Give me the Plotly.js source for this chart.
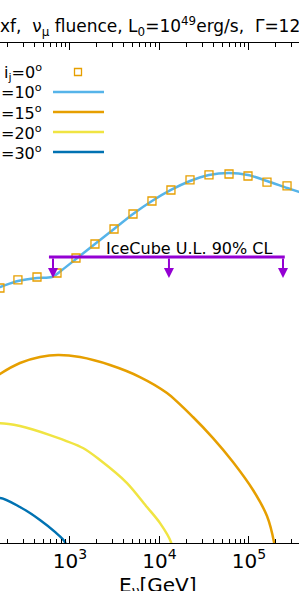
<!DOCTYPE html>
<html>
<head>
<meta charset="utf-8">
<script src="https://cdn.plot.ly/plotly-3.0.1.min.js"></script>
<style>
  html, body { margin: 0; padding: 0; overflow: hidden; background: #fff; }
  #chart { position: absolute; left: 0; top: 0; width: 316px; height: 591px; }
</style>
</head>
<body>
<div id="chart"></div>
<script>
// ---- data (energies in GeV, fluence E^2 dN/dE in arbitrary units) ----
const energy0 = [165, 262, 428, 716, 1167, 1901, 3105, 5058, 8241, 13430, 21930, 35730, 59840, 97500, 158900, 266100];
const fluence0 = [3.55e-4, 4.27e-4, 4.57e-4, 5.01e-4, 7.08e-4, 9.77e-4, 1.38e-3, 1.95e-3, 2.63e-3, 3.39e-3, 4.27e-3, 4.79e-3, 4.90e-3, 4.68e-3, 4.07e-3, 3.72e-3];

const energy10 = [120, 165, 262, 428, 630, 815, 1167, 1901, 3105, 5058, 8241, 13430, 21930, 35730, 59840, 97500, 158900, 266100, 362000, 561000];
const fluence10 = [3.31e-4, 3.63e-4, 4.17e-4, 4.47e-4, 4.57e-4, 5.37e-4, 6.92e-4, 9.77e-4, 1.38e-3, 1.95e-3, 2.63e-3, 3.39e-3, 4.17e-3, 4.79e-3, 5.01e-3, 4.79e-3, 4.17e-3, 3.55e-3, 3.24e-3, 2.69e-3];

const energy15 = [120, 165, 276, 462, 735, 1294, 2800, 6050, 12130, 23660, 39630, 66220, 110900, 158900, 190100, 200400];
const fluence15 = [3.98e-5, 4.90e-5, 6.31e-5, 7.24e-5, 7.59e-5, 7.24e-5, 6.03e-5, 4.57e-5, 3.16e-5, 1.82e-5, 1.12e-5, 6.46e-6, 3.39e-6, 1.86e-6, 1.02e-6, 6.8e-7];

const energy20 = [120, 165, 276, 598, 1396, 2163, 4335, 7244, 10140, 13430, 14160];
const fluence20 = [1.51e-5, 1.58e-5, 1.48e-5, 1.20e-5, 8.91e-6, 6.76e-6, 3.98e-6, 2.29e-6, 1.58e-6, 1.02e-6, 6.8e-7];

const energy30 = [120, 165, 276, 462, 679, 879, 925];
const fluence30 = [2.51e-6, 2.82e-6, 2.29e-6, 1.70e-6, 1.29e-6, 1.02e-6, 6.8e-7];

// IceCube upper limits
const ulEnergy = [646, 12760, 239900];
const ulEdges = [582, 251200];
const ulFluence = 7.24e-4;
const ulArrowTip = 4.47e-4;

const labels = ['i<sub>j</sub>=0<sup>o</sup>', '=10<sup>o</sup>', '=15<sup>o</sup>', '=20<sup>o</sup>', '=30<sup>o</sup>'];
const colors = ['#E69F00', '#56B4E9', '#E69F00', '#F0E442', '#0072B2'];

const lw = 2.5;
const sp = {shape: 'spline', smoothing: 0.8};
const traces = [
  {x: energy10, y: fluence10, mode: 'lines', line: Object.assign({color: colors[1], width: lw}, sp), name: labels[1]},
  {x: energy15, y: fluence15, mode: 'lines', line: Object.assign({color: colors[2], width: lw}, sp), name: labels[2]},
  {x: energy20, y: fluence20, mode: 'lines', line: Object.assign({color: colors[3], width: lw}, sp), name: labels[3]},
  {x: energy30, y: fluence30, mode: 'lines', line: Object.assign({color: colors[4], width: lw}, sp), name: labels[4]},
  {x: energy0, y: fluence0, mode: 'markers', name: labels[0],
   marker: {symbol: 'square-open', size: 8, color: colors[0], line: {width: 1.3, color: colors[0]}}},
  {x: ulEdges, y: [ulFluence, ulFluence], mode: 'lines', line: {color: '#9400D3', width: 3}, name: 'IceCube U.L. 90% CL'}
];

const annotations = [];
ulEnergy.forEach(e => {
  annotations.push({
    x: Math.log10(e), y: Math.log10(ulArrowTip), xref: 'x', yref: 'y',
    ax: Math.log10(e), ay: Math.log10(ulFluence), axref: 'x', ayref: 'y',
    showarrow: true, arrowhead: 2, arrowsize: 1, arrowwidth: 2, arrowcolor: '#9400D3', text: ''
  });
});
annotations.push({
  x: Math.log10(21630), y: -3.05, xref: 'x', yref: 'y', showarrow: false,
  text: 'IceCube U.L. 90% CL', font: {family: 'DejaVu Sans', size: 16, color: '#000'},
  xanchor: 'center', yanchor: 'middle'
});

// manual legend (text left of handle, right aligned)
const W = 316, plotTop = 43, plotBot = 543, H = plotBot - plotTop;
const px = v => v / W;
const py = v => (plotBot - v) / H;
const shapes = [];
const rowY = [72, 92, 112, 132, 152];
labels.forEach((lab, i) => {
  annotations.push({
    x: px(44), y: py(rowY[i]), xref: 'paper', yref: 'paper', showarrow: false,
    text: lab, xanchor: 'right', yanchor: 'middle',
    font: {family: 'DejaVu Sans', size: 16, color: '#000'}
  });
  if (i === 0) {
    shapes.push({type: 'rect', xref: 'paper', yref: 'paper',
      x0: px(74.5), x1: px(81.5), y0: py(rowY[i] + 3.5), y1: py(rowY[i] - 3.5),
      line: {color: colors[0], width: 1.3}, fillcolor: 'rgba(0,0,0,0)'});
  } else {
    shapes.push({type: 'line', xref: 'paper', yref: 'paper',
      x0: px(53), x1: px(104), y0: py(rowY[i]), y1: py(rowY[i]),
      line: {color: colors[i], width: lw}});
  }
});

// x-axis title (placed as annotation for exact position)
annotations.push({
  x: 0.5, y: py(586), xref: 'paper', yref: 'paper', showarrow: false,
  text: 'E<sub>ν</sub>[GeV]', xanchor: 'center', yanchor: 'middle',
  font: {family: 'DejaVu Sans', size: 20, color: '#000'}
});

const layout = {
  width: W, height: 591,
  margin: {l: 0, r: 0, t: plotTop, b: 591 - plotBot, pad: 0},
  paper_bgcolor: '#fff', plot_bgcolor: '#fff',
  showlegend: false,
  font: {family: 'DejaVu Sans', color: '#000'},
  title: {
    text: 'xf,  ν<sub>μ</sub> fluence, L<sub>0</sub>=10<sup>49</sup>erg/s,  Γ=120',
    font: {family: 'DejaVu Sans', size: 17, color: '#000'},
    xref: 'container', x: 0, xanchor: 'left',
    yref: 'container', y: 1 - 26 / 591, yanchor: 'middle'
  },
  xaxis: {
    type: 'log', range: [2.218, 2.218 + W / 89.5],
    showline: true, linecolor: '#000', linewidth: 1.3, mirror: 'allticks',
    ticks: 'inside', ticklen: 7, tickwidth: 1, tickcolor: '#000',
    dtick: 1, exponentformat: 'power', showexponent: 'all',
    tickfont: {family: 'DejaVu Sans', size: 16, color: '#000'},
    minor: {ticks: 'inside', ticklen: 4, tickwidth: 1, tickcolor: '#000', showgrid: false},
    showgrid: false, zeroline: false
  },
  yaxis: {
    type: 'log', range: [-6, -1],
    showline: false, ticks: '', showticklabels: false, showgrid: false, zeroline: false
  },
  annotations: annotations,
  shapes: shapes
};

Plotly.newPlot('chart', traces, layout, {displayModeBar: false, staticPlot: true});
</script>
</body>
</html>
